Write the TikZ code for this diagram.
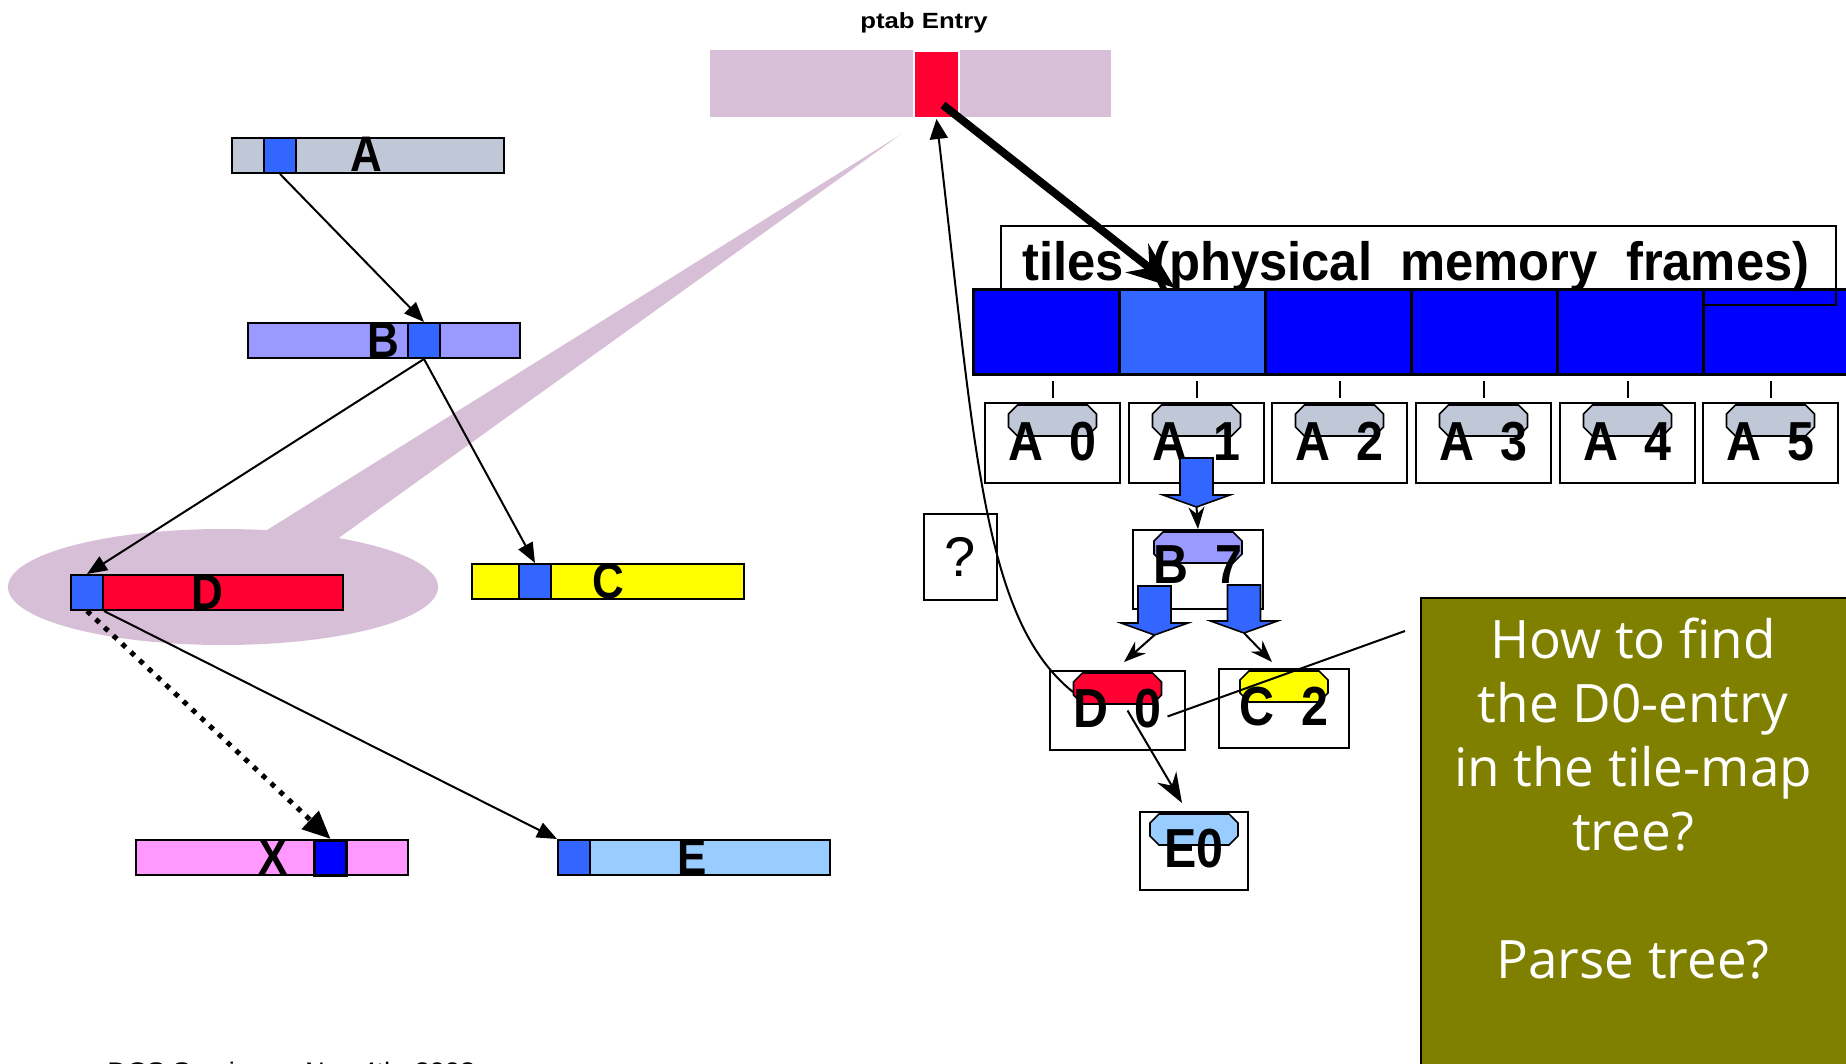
\documentclass[tikz,border=0pt]{standalone}
\usepackage{fontspec}
\usepackage{graphicx}
\setmainfont{Liberation Sans}
\newfontfamily\labelfont[WordSpace=2]{Liberation Sans}
\newfontfamily\notefont{Open Sans}
\usetikzlibrary{arrows.meta,calc}

\definecolor{thistle}{HTML}{D8BFD8}
\definecolor{ptabred}{HTML}{FF0033}
\definecolor{cellblue}{HTML}{3366FF}
\definecolor{tileblue}{HTML}{0000FF}
\definecolor{agrey}{HTML}{C0C7D6}
\definecolor{bviolet}{HTML}{9999FF}
\definecolor{cyellow}{HTML}{FFFF00}
\definecolor{xpink}{HTML}{FF99FF}
\definecolor{elight}{HTML}{99CCFF}
\definecolor{notegreen}{HTML}{808000}

% condensed setting of the heavy labels
\newcommand\narrowtext[2][0.88]{\scalebox{#1}[1]{#2}}
% chamfered tag sitting at the top of an entry box
\newcommand\capsule[2]{\filldraw[fill=#2, line width=0.8pt, shift={(#1.north)}]
  (-35,3) -- (35,3) -- (44,12) -- (44,25) -- (35,34) -- (-35,34) -- (-44,25) -- (-44,12) -- cycle;}
% block arrow: centre x, shaft top, head top, tip y, tip coordinate name
\newcommand\fatarrow[5]{\filldraw[fill=cellblue, line width=0.8pt]
  ({#1-16.5},#2) -- ({#1+16.5},#2) -- ({#1+16.5},#3) -- ({#1+33.5},#3) -- (#1,#4)
  -- ({#1-33.5},#3) -- ({#1-16.5},#3) -- cycle;
  \coordinate (#5) at (#1,#4);}

\begin{document}
\begin{tikzpicture}[x=0.5pt,y=-0.5pt,
  bar/.style={draw, line width=1pt, minimum width=136pt, minimum height=17.5pt, inner sep=0, anchor=north west},
  cell/.style={draw, line width=1pt, fill=cellblue, minimum width=16pt, minimum height=17.5pt, inner sep=0, anchor=north west},
  barlabel/.style={font=\labelfont\bfseries\fontsize{25}{25}\selectfont, inner sep=0, anchor=base},
  tile/.style={draw, line width=1.5pt, fill=tileblue, minimum width=73pt, minimum height=42.5pt, inner sep=0, anchor=north west},
  entry/.style={draw, line width=1pt, fill=white, minimum width=67.5pt, minimum height=40pt, inner sep=0, anchor=north west},
  entrylabel/.style={font=\labelfont\bfseries\fontsize{27.5}{27.5}\selectfont, inner sep=0, anchor=base},
  conn/.style={line width=1pt, -{Triangle[length=10pt,width=8pt]}},
  dotarrow/.style={line width=2.5pt, dash pattern=on 2.5pt off 3.5pt, -{Triangle[length=14pt,width=12pt]}},
  smallhead/.style={line width=1pt, -{Stealth[length=11pt,width=8pt]}},
  midhead/.style={line width=1pt, -{Stealth[length=15pt,width=11pt]}},
  tick/.style={line width=1pt, shorten <=2.5pt, shorten >=2pt}]

\clip (0,0) rectangle (1846,1064);
\fill[white] (0,0) rectangle (1846,1064);

% highlight: lens around D with a pointer up to the ptab entry
\fill[thistle] (223,587) ellipse [x radius=107.5pt, y radius=29pt];
\fill[thistle] (900,135) -- (243,545) -- (308,560) -- cycle;

% ptab entry
\node[fill=thistle, minimum width=200.5pt, minimum height=33.5pt, inner sep=0, anchor=north west] (ptab) at (710,50) {};
\node[fill=ptabred, draw=white, line width=1pt, minimum width=22.5pt, minimum height=33.5pt, inner sep=0, anchor=north west] (pte) at (913,50) {};
\node[font=\bfseries\fontsize{11}{11}\selectfont, inner sep=0, anchor=base] (ptabtitle) at (924,29) {\scalebox{1.17}[1]{ptab Entry}};

% segment bars
\node[bar, fill=agrey] (A) at (231,137) {};
\node[cell] (Ac) at (263,137) {};
\node[barlabel] (Al) at (366,172) {\narrowtext{A}};

\node[bar, fill=bviolet] (B) at (247,322) {};
\node[cell] (Bc) at (407,322) {};
\node[barlabel] (Bl) at (383,357) {\narrowtext{B}};

\node[bar, fill=cyellow] (C) at (471,563) {};
\node[cell] (Cc) at (518,563) {};
\node[barlabel] (Cl) at (608,598) {\narrowtext{C}};

\node[bar, fill=ptabred] (D) at (70,574) {};
\node[cell] (Dc) at (70,574) {};
\node[barlabel] (Dl) at (207,609) {\narrowtext{D}};

\node[bar, fill=xpink] (X) at (135,839) {};
\node[cell, fill=tileblue, line width=1.6pt] (Xc) at (313,839) {};
\node[barlabel] (Xl) at (273,874) {\narrowtext{X}};

\node[bar, fill=elight] (E) at (557,839) {};
\node[cell] (Ec) at (557,839) {};
\node[barlabel] (El) at (692,874) {\narrowtext{E}};

\draw[conn] (Ac.south) -- (Bc.north);
\draw[conn] (Bc.south) -- (Cc.north);
\draw[conn] (Bc.south) -- (Dc.north);
\draw[dotarrow] (Dc.south) -- (Xc.north);
\draw[conn] (Dc.south east) -- (E.north west);

% tiles (physical memory frames)
\node[tile] (t6) at (1702,288) {};
\node[draw, line width=0.8pt, minimum width=417.5pt, minimum height=39.5pt, inner sep=0, anchor=north west] (hdr) at (1000,225) {};
\node[font=\labelfont\bfseries\fontsize{27}{27}\selectfont, inner sep=0, anchor=base] (hdrtext) at (1416,280)
  {\narrowtext[0.94]{tiles (physical memory frames)}};
\foreach \i in {1,...,5} \node[tile] (t\i) at ({972+(\i-1)*146},288) {};
\node[tile, fill=cellblue] (t2) at (1118,288) {};

% tile-map entries
\foreach \i/\j/\x in {0/1/984, 1/2/1128, 2/3/1271, 3/4/1415, 4/5/1559, 5/6/1702} {
  \node[entry] (a\i) at (\x,402) {};
  \capsule{a\i}{agrey}
  \node[entrylabel] (al\i) at ($(a\i.north)+(0,58)$) {\narrowtext{A \i}};
  \draw[tick] (t\j.south -| a\i.north) -- (a\i.north);
}

\node[entry, minimum width=65pt, minimum height=39.5pt] (b7) at (1132,529) {};
\capsule{b7}{bviolet}
\node[entrylabel] (b7l) at ($(b7.north)+(0,54)$) {\narrowtext{B 7}};

\node[entry, minimum height=39.5pt] (d0) at (1049,670) {};
\capsule{d0}{ptabred}
\node[entrylabel] (d0l) at ($(d0.north)+(0,57)$) {\narrowtext{D 0}};

\node[entry, minimum width=65pt, minimum height=39.5pt] (c2) at (1218,668) {};
\capsule{c2}{cyellow}
\node[entrylabel] (c2l) at ($(c2.north)+(0,57)$) {\narrowtext{C 2}};

\node[entry, minimum width=54pt, minimum height=39pt] (e0) at (1139,811) {};
\capsule{e0}{elight}
\node[entrylabel] (e0l) at ($(e0.north)+(0,56)$) {\narrowtext{E0}};

\node[entry, minimum width=36.5pt, minimum height=43pt, font=\fontsize{28}{28}\selectfont] (q) at (923,513) {?};

% tree descent
\fatarrow{1196.5}{458}{495}{507}{f1}
\fatarrow{1154.5}{586}{623}{635}{f2}
\fatarrow{1244}{585}{621}{633}{f3}
\coordinate (d0in) at (1124,662);
\coordinate (c2in) at (1272,662);
\draw[smallhead] (f1) -- (b7.north);
\draw[smallhead] (f2) -- (d0in);
\draw[smallhead] (f3) -- (c2in);

\coordinate (e0in) at (1182,803);
\draw[midhead] ([xshift=5pt]d0.center) -- (e0in);

% back pointer from the D0 entry to the ptab entry
\draw[line width=1pt, -{Triangle[length=10pt,width=9pt]}]
  ($(d0.north west)+(24,22)$) .. controls (983,620) and (975,450) .. (pte.south);

% ptab entry points into the tile array
\coordinate (ptstart) at (943,105);
\draw[line width=4pt, -{Stealth[length=24pt,width=18pt]}] (ptstart) -- ($(t2.north west)+(57,0)$);

% note
\node[draw, line width=1pt, fill=notegreen, minimum width=220pt, minimum height=240pt, inner sep=0, anchor=north west] (note) at (1420,597) {};
\node[font=\notefont\fontsize{26.5}{32}\selectfont, text=white, align=center, inner sep=0, anchor=north] (notetext) at (1633,618)
  {How to find\\the D0-entry\\in the tile-map\\tree?\\[32pt]Parse tree?};
\coordinate (notept) at (1405,631);
\draw[line width=1pt] ([xshift=25pt,yshift=-3pt]d0.center) -- (notept);

% footer
\node[font=\fontsize{12}{12}\selectfont, inner sep=0, anchor=base west] (footer) at (107,1079)
  {\scalebox{1.14}[1]{DCS Seminar -- Nov 4th, 2003}};
\end{tikzpicture}
\end{document}
